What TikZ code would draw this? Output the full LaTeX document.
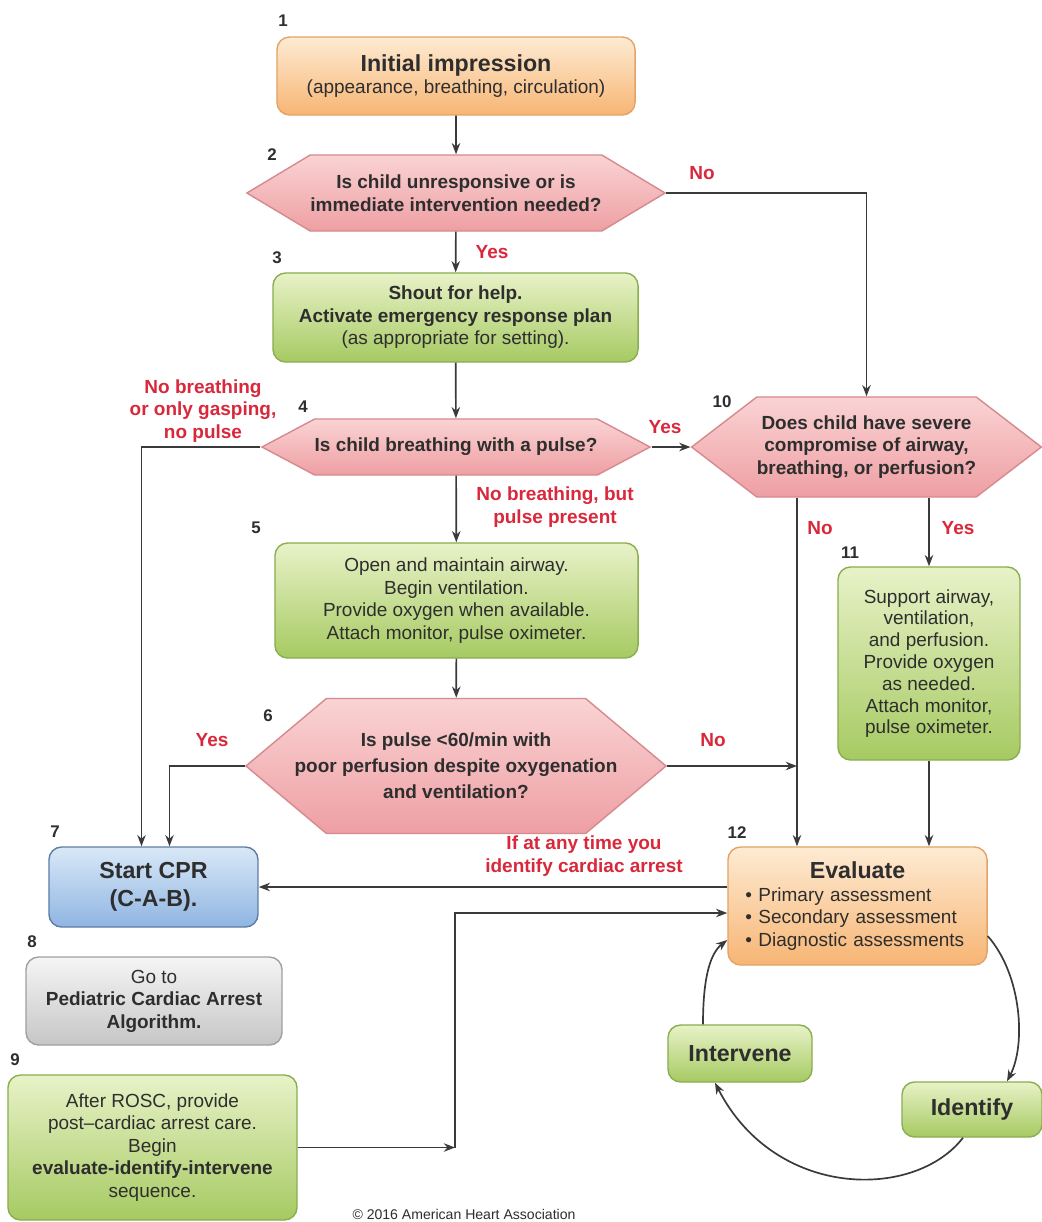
\documentclass[tikz,border=0pt]{standalone}
\usepackage{fontspec}
\setmainfont{Liberation Sans}
\usepackage{tikz}
\usetikzlibrary{arrows.meta,positioning,shapes.symbols,calc}
\definecolor{peachtop}{HTML}{FEEBD3}
\definecolor{peachbot}{HTML}{F7B574}
\definecolor{peachedge}{HTML}{E2A466}
\definecolor{leaftop}{HTML}{E8F2C8}
\definecolor{leafbot}{HTML}{A6CA62}
\definecolor{leafedge}{HTML}{8AAE50}
\definecolor{blushtop}{HTML}{FAD3D4}
\definecolor{blushbot}{HTML}{EE9FA3}
\definecolor{blushedge}{HTML}{D68A8E}
\definecolor{skytop}{HTML}{D9E8F7}
\definecolor{skybot}{HTML}{8FB5E2}
\definecolor{skyedge}{HTML}{5E7DA6}
\definecolor{ashtop}{HTML}{F5F5F5}
\definecolor{ashbot}{HTML}{C6C6C6}
\definecolor{ashedge}{HTML}{A0A0A0}
\definecolor{alarm}{HTML}{D9283B}
\definecolor{ink}{HTML}{2E2E2E}
\definecolor{wire}{HTML}{3A3A3A}
\newcommand{\bodysize}{\fontsize{13.5}{16}\selectfont}
\newcommand{\headsize}{\fontsize{16.5}{19.5}\selectfont}
\tikzset{
  flowbox/.style={
    rectangle, rounded corners=9pt, draw=#1edge, line width=1pt,
    top color=#1top, bottom color=#1bot, text=ink,
    font=\bodysize, align=center, inner sep=2pt
  },
  flowbox/.default=leaf,
  query/.style={
    signal, signal to=west and east, draw=blushedge, line width=1pt,
    top color=blushtop, bottom color=blushbot, text=ink,
    font=\bodysize\bfseries, align=center, inner sep=0pt
  },
  answer/.style={text=alarm, font=\bodysize\bfseries, align=center, inner sep=0pt},
  stepnum/.style={text=ink, font=\fontsize{12}{14}\selectfont\bfseries, inner sep=0pt},
  flowarrow/.style={-{Stealth[length=8pt,width=6pt]}, line width=1.2pt, draw=wire},
}
\begin{document}
\begin{tikzpicture}[x=0.025cm, y=-0.025cm]
  \useasboundingbox[fill=white] (0,0) rectangle (1041,1222);

  % main column
  \node[flowbox=peach, minimum width=8.95cm, minimum height=1.95cm] (impr) at (456,76)
    {{\headsize\bfseries Initial impression}\\(appearance, breathing, circulation)};
  \node[query, minimum width=10.45cm, minimum height=1.9cm, signal pointer angle=62] (unresp) at (456,193)
    {Is child unresponsive or is\\immediate intervention needed?};
  \node[flowbox, minimum width=9.125cm, minimum height=2.225cm] (shout) at (455.5,317.5)
    {\textbf{Shout for help.}\\\textbf{Activate emergency response plan}\\(as appropriate for setting).};
  \node[query, minimum width=9.55cm, minimum height=1.4cm, signal pointer angle=56] (breath) at (456,447)
    {Is child breathing with a pulse?};
  \node[flowbox, minimum width=9.075cm, minimum height=2.875cm] (airway) at (456.5,600.5)
    {Open and maintain airway.\\Begin ventilation.\\Provide oxygen when available.\\Attach monitor, pulse oximeter.};
  \node[query, minimum width=10.5cm, minimum height=3.375cm, signal pointer angle=80, inner xsep=-0.8cm,
        font=\fontsize{13.5}{18.5}\selectfont\bfseries] (slow) at (456,766)
    {Is pulse <60/min with\\poor perfusion despite oxygenation\\and ventilation?};

  % left column
  \node[flowbox=sky, minimum width=5.225cm, minimum height=2cm, font=\headsize\bfseries] (cpr) at (153.5,887)
    {Start CPR\\(C-A-B).};
  \node[flowbox=ash, minimum width=6.4cm, minimum height=2.2cm] (pcaa) at (154,1001)
    {Go to\\\textbf{Pediatric Cardiac Arrest}\\\textbf{Algorithm.}};
  \node[flowbox, minimum width=7.225cm, minimum height=3.625cm] (rosc) at (152.5,1147.5)
    {After ROSC, provide\\post--cardiac arrest care.\\Begin\\\textbf{evaluate-identify-intervene}\\sequence.};

  % right column
  \node[query, minimum width=8.575cm, minimum height=2.5cm, signal pointer angle=75] (severe) at (866.5,447)
    {Does child have severe\\compromise of airway,\\breathing, or perfusion?};
  \node[flowbox, minimum width=4.55cm, minimum height=4.825cm, font=\fontsize{13.5}{15.5}\selectfont] (support) at (929,663.5)
    {Support airway,\\ventilation,\\and perfusion.\\Provide oxygen\\as needed.\\Attach monitor,\\pulse oximeter.};
  \node[flowbox=peach, minimum width=6.475cm, minimum height=2.95cm, text width=5.6cm, align=left] (evalu) at (857.5,906)
    {{\centering\headsize\bfseries Evaluate\par}
     \textbullet\ Primary assessment\\\textbullet\ Secondary assessment\\\textbullet\ Diagnostic assessments};
  \node[flowbox, minimum width=3.6cm, minimum height=1.425cm, font=\headsize\bfseries] (interv) at (740,1053.5) {Intervene};
  \node[flowbox, minimum width=3.5cm, minimum height=1.375cm, font=\headsize\bfseries] (ident) at (972,1109.5) {Identify};

  % step numbers
  \node[stepnum] (n1) at (283,21) {1};
  \node[stepnum] (n2) at (272,155) {2};
  \node[stepnum] (n3) at (277,258) {3};
  \node[stepnum] (n4) at (303,407) {4};
  \node[stepnum] (n5) at (256,528) {5};
  \node[stepnum] (n6) at (268,716) {6};
  \node[stepnum] (n7) at (55,832) {7};
  \node[stepnum] (n8) at (32,942) {8};
  \node[stepnum] (n9) at (15,1060) {9};
  \node[stepnum] (n10) at (722,402) {10};
  \node[stepnum] (n11) at (850,553) {11};
  \node[stepnum] (n12) at (737,833) {12};

  % answers
  \node[answer] (noA) at (702,173) {No};
  \node[answer] (yesA) at (492,252) {Yes};
  \node[answer] (nopulse) at (203,411) {No breathing\\or only gasping,\\no pulse};
  \node[answer] (yesB) at (665,427) {Yes};
  \node[answer] (pulseonly) at (555,507) {No breathing, but\\pulse present};
  \node[answer] (noB) at (820,528) {No};
  \node[answer] (yesC) at (958,528) {Yes};
  \node[answer] (yesD) at (212,740) {Yes};
  \node[answer] (noC) at (713,740) {No};
  \node[answer] (anytime) at (584,856) {If at any time you\\identify cardiac arrest};
  \node[text=ink, font=\fontsize{10}{12}\selectfont, inner sep=0pt] (copy) at (464,1214)
    {© 2016 American Heart Association};

  \coordinate (noline) at (797,0);
  \coordinate (riser) at (455,0);

  % connectors
  \draw[flowarrow] (impr) -- (unresp);
  \draw[flowarrow] (unresp) -- (shout);
  \draw[flowarrow] (unresp.east) -| (severe.north);
  \draw[flowarrow] (shout) -- (breath);
  \draw[flowarrow] (breath.west) -| ([xshift=-0.3cm]cpr.north);
  \draw[flowarrow] (breath.east) -- (severe.west);
  \draw[flowarrow] (breath) -- (airway);
  \draw[flowarrow] (airway) -- (slow);
  \draw[flowarrow] (slow.west) -| ([xshift=0.4cm]cpr.north);
  \draw[flowarrow] (slow.east) -- (slow.east -| noline);
  \draw[flowarrow] (severe.south -| noline) -- (evalu.north -| noline);
  \draw[flowarrow] (severe.south -| support.north) -- (support.north);
  \draw[flowarrow] (support.south) -- (support.south |- evalu.north);
  \draw[flowarrow] (evalu.west |- cpr.east) -- (cpr.east);
  \draw[flowarrow] (rosc.east) -- (rosc.east -| riser);
  \draw[flowarrow] (rosc.east -| riser) |- ([yshift=-0.175cm]evalu.west);

  % evaluate-identify-intervene cycle
  \draw[flowarrow] (evalu.-13) .. controls (1022,975) and (1026,1045) .. ([xshift=0.875cm]ident.north);
  \draw[flowarrow] ([xshift=-0.225cm]ident.south) .. controls (915,1200) and (775,1200) .. ([xshift=-0.625cm]interv.south);
  \draw[flowarrow] ([xshift=-0.925cm]interv.north) .. controls (703,985) and (708,955) .. ([yshift=-0.85cm]evalu.west);
\end{tikzpicture}
\end{document}
